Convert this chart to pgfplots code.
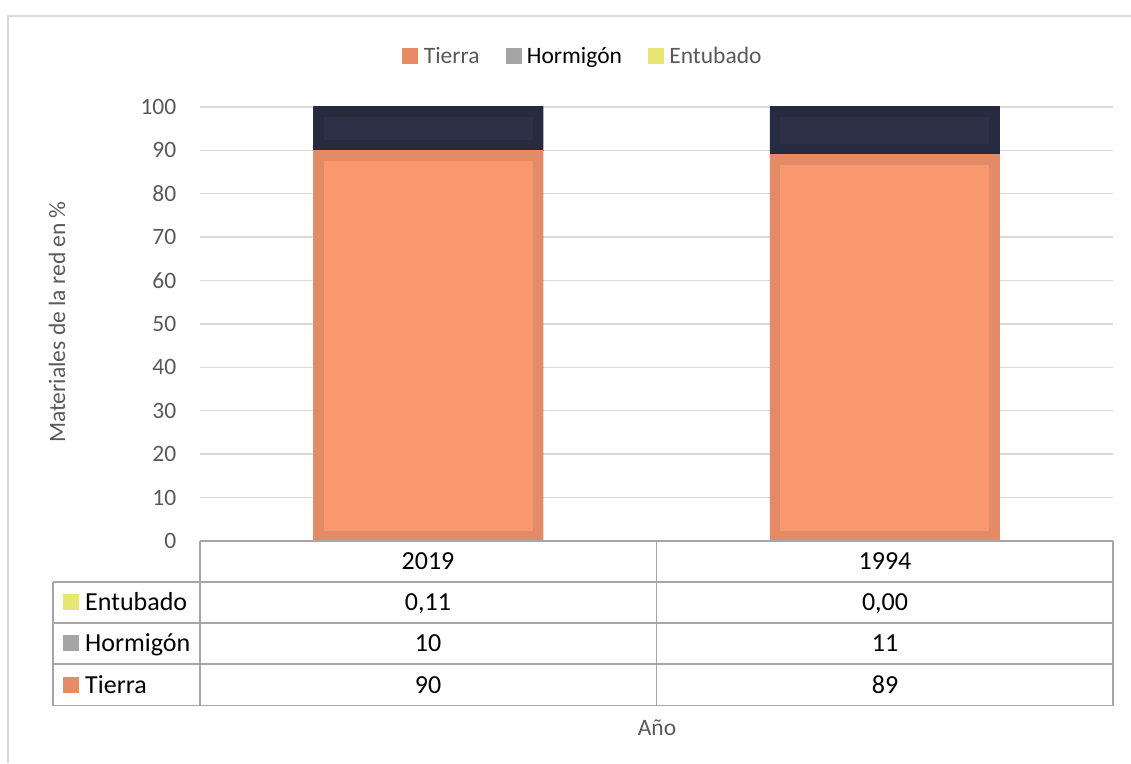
\documentclass[border=0pt]{standalone}
\usepackage{pgfplots}
\pgfplotsset{compat=1.18}
\usepackage{fontspec}
\setmainfont{Carlito}
\definecolor{textgray}{HTML}{595959}
\definecolor{gridgray}{HTML}{D9D9D9}
\definecolor{tablegray}{HTML}{A6A6A6}
\definecolor{tierraleg}{HTML}{E78B67}
\definecolor{tierrafill}{HTML}{F9986E}
\definecolor{tierraedge}{HTML}{E38A66}
\definecolor{hormfill}{HTML}{2E3047}
\definecolor{hormedge}{HTML}{272B40}
\definecolor{hormleg}{HTML}{A5A5A5}
\definecolor{entub}{HTML}{E6E672}
\pgfplotsset{
  insetbar/.style n args={2}{fill=#1, draw=none,
    path picture={\draw[path picture={}, fill=none, draw=#2, line width=21pt] (path picture bounding box.south west) rectangle (path picture bounding box.north east);}},
  baraxis/.style={
    at={(200pt,222pt)}, anchor=south west,
    scale only axis, width=913pt, height=434pt,
    xmin=-0.5, xmax=1.5, ymin=0, ymax=100,
    ybar stacked, bar width=230pt,
    xtick=\empty,
    ytick={0,10,...,100},
    major tick length=0pt,
    axis line style={draw=none},
  },
}
\newcommand{\axfont}{\fontsize{23.5}{28}\selectfont}
\newcommand{\tbfont}{\fontsize{26}{31}\selectfont}
\begin{document}
\begin{tikzpicture}[x=1pt,y=1pt]
\path[use as bounding box] (0,0) rectangle (1131,763);
% outer frame
\draw[gridgray, line width=1.5pt] (8,0) -- (8,747) -- (1131,747);
\begin{axis}[
  baraxis,
  ymajorgrids, grid style={draw=gridgray, line width=1.4pt},
  /pgf/number format/assume math mode=true,
  yticklabel style={font=\axfont, text=textgray, anchor=east, inner sep=0pt, xshift=-23.5pt},
  legend style={at={(383pt,485pt)}, anchor=center, draw=none, fill=none,
    legend columns=3, font=\axfont, text=textgray,
    /tikz/every even column/.append style={column sep=24pt}},
  legend image code/.code={\fill[#1] (0pt,-7.5pt) rectangle (15pt,7.5pt); \path (19pt,0pt);},
]
\addlegendimage{tierraleg}
\addlegendentry{Tierra}
\addlegendimage{hormleg}
\addlegendentry{\textcolor{black}{Hormigón}}
\addlegendimage{entub}
\addlegendentry{Entubado}
% 2019
\addplot[insetbar={tierrafill}{tierraedge}, forget plot] coordinates {(0,90)};
\addplot[insetbar={hormfill}{hormedge}, forget plot] coordinates {(0,10)};
\addplot[fill=entub, draw=entub, line width=0.8pt, forget plot] coordinates {(0,0.11)};
\end{axis}
\begin{axis}[baraxis, hide axis]
% 1994
\addplot[insetbar={tierrafill}{tierraedge}] coordinates {(1,89)};
\addplot[insetbar={hormfill}{hormedge}] coordinates {(1,11)};
\addplot[fill=entub, draw=none] coordinates {(1,0.00)};
\end{axis}
% data table
\begin{scope}[tablegray, line width=1.5pt]
\draw (200,222) -- (1113,222);
\draw (53,181) -- (1113,181);
\draw (53,140) -- (1113,140);
\draw (53,99) -- (1113,99);
\draw (53,57.5) -- (1113,57.5);
\draw (200,222) -- (200,57.5);
\draw (656.5,222) -- (656.5,57.5);
\draw (1113,222) -- (1113,57.5);
\draw (53,181) -- (53,57.5);
\end{scope}
\begin{scope}[every node/.style={font=\tbfont, text=black, anchor=base, inner sep=0pt}]
\node at (428,193.2) {2019};
\node at (885,193.2) {1994};
\node at (428,152.7) {0,11};
\node at (885,152.7) {0,00};
\node at (428,111.2) {10};
\node at (885,111.2) {11};
\node at (428,69.7) {90};
\node at (885,69.7) {89};
\node[anchor=base west] at (85,152.7) {Entubado};
\node[anchor=base west] at (85,111.2) {Hormigón};
\node[anchor=base west] at (85,69.7) {Tierra};
\end{scope}
\fill[entub] (63,153) rectangle (79,169);
\fill[hormleg] (63,112) rectangle (79,128);
\fill[tierraleg] (63,70.5) rectangle (79,86.5);
% axis titles
\node[font=\axfont, text=textgray, rotate=90, anchor=center] at (57,441) {Materiales de la red en \%};
\node[font=\axfont, text=textgray, anchor=base] at (657,28) {Año};
\end{tikzpicture}
\end{document}
